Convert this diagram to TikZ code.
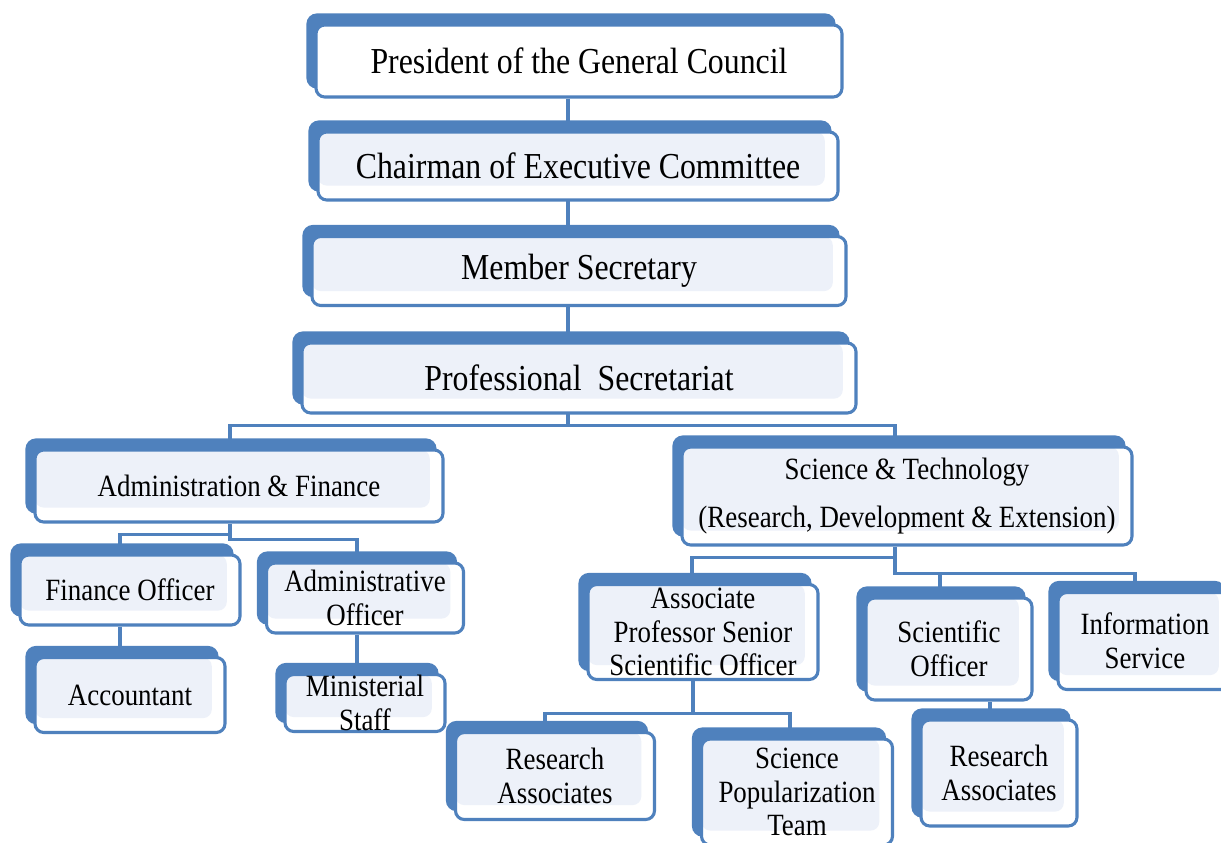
\documentclass[tikz,border=0pt]{standalone}
\usepackage{fontspec}
\setmainfont{Liberation Serif}[FakeStretch=0.87]
\usetikzlibrary{shadows,backgrounds,calc}
\definecolor{boxblue}{HTML}{4F81BD}
\definecolor{boxfill}{HTML}{EDF1F9}

\begin{document}
\begin{tikzpicture}[x=0.025cm,y=-0.025cm,font=\fontsize{22}{24}\selectfont,
  wh/.style 2 args={minimum width=#1*0.025cm,minimum height=#2*0.025cm}]
\tikzstyle{box}=[draw=boxblue,line width=2.2pt,rounded corners=0.22cm,fill=white,inner sep=0pt,align=center,
  copy shadow={shadow xshift=-0.2cm,shadow yshift=0.25cm,fill=boxblue,draw=boxblue}]
\tikzstyle{lite}=[path picture={\fill[boxfill] (path picture bounding box.north west) rectangle ([xshift=-0.33cm,yshift=0.36cm]path picture bounding box.south east);}]
\tikzstyle{big}=[font=\fontsize{26}{28}\selectfont]
\tikzstyle{conn}=[draw=boxblue,line width=2.2pt]
\path[use as bounding box,clip] (0,0) rectangle (1221,842);
% top chain
\node[box,big,wh={526}{72}] (pres) at (579,61) {President of the General Council};
\node[box,lite,big,wh={520}{68}] (chair) at (578,166) {Chairman of Executive Committee};
\node[box,lite,big,wh={534}{69}] (mem) at (579,271) {Member Secretary};
\node[box,lite,big,wh={554}{70}] (prof) at (579,378) {Professional\ \ Secretariat};
% wings
\node[box,lite,wh={408}{72}] (admin) at (239,486) {Administration \& Finance};
\node[box,lite,wh={450}{98}] (st) at (907,496) {Science \& Technology\\[10pt](Research, Development \& Extension)};
% administration side
\node[box,lite,wh={220}{70}] (fin) at (130,590) {Finance Officer};
\node[box,lite,wh={197}{70}] (aoff) at (365,598) {Administrative\\Officer};
\node[box,lite,wh={190}{75}] (acc) at (130,695) {Accountant};
\node[box,lite,wh={160}{57}] (mstaff) at (365,703) {Ministerial\\Staff};
% science side
\node[box,lite,wh={230}{95}] (assoc) at (703,632) {Associate\\Professor Senior\\Scientific Officer};
\node[box,lite,wh={166}{102}] (sci) at (949,649) {Scientific\\Officer};
\node[box,lite,wh={174}{97}] (info) at (1145,641) {Information\\Service};
\node[box,lite,wh={199}{87}] (resa) at (555,776) {Research\\Associates};
\node[box,lite,wh={191}{106}] (pop) at (797,792) {Science\\Popularization\\Team};
\node[box,lite,wh={156}{106}] (resb) at (999,773) {Research\\Associates};
% connectors
\begin{scope}[on background layer]
\draw[conn] ($(pres.south)+(-11,0)$) -- ($(prof.south)+(-11,11)$) coordinate (j1);
\draw[conn] (j1) -| ($(admin.north)+(-9,0)$);
\draw[conn] (j1) -| ($(st.north)+(-12,0)$);
\draw[conn] ($(admin.south)+(-9,0)$) -- ++(0,16) -| ($(aoff.north)+(-8,0)$);
\draw[conn] ($(admin.south)+(-9,11)$) -| ($(fin.north)+(-10,0)$);
\draw[conn] ($(fin.south)+(-10,0)$) -- ($(acc.north)+(-10,0)$);
\draw[conn] ($(aoff.south)+(-8,0)$) -- ($(mstaff.north)+(-8,0)$);
\draw[conn] ($(st.south)+(-12,0)$) -- ++(0,27) -| ($(info.north)+(-10,0)$);
\draw[conn] ($(st.south)+(-12,11)$) -| ($(assoc.north)+(-11,0)$);
\draw[conn] ($(st.south)+(-12,27)$) -| ($(sci.north)+(-9,0)$);
\draw[conn] ($(assoc.south)+(-10,0)$) -- ++(0,32) coordinate (j4) -| ($(resa.north)+(-10,0)$);
\draw[conn] (j4) -| ($(pop.north)+(-7,0)$);
\draw[conn] ($(resb.north)+(-9,0)$) -- ($(resb.north |- sci.south)+(-9,0)$);
\end{scope}
\end{tikzpicture}
\end{document}
